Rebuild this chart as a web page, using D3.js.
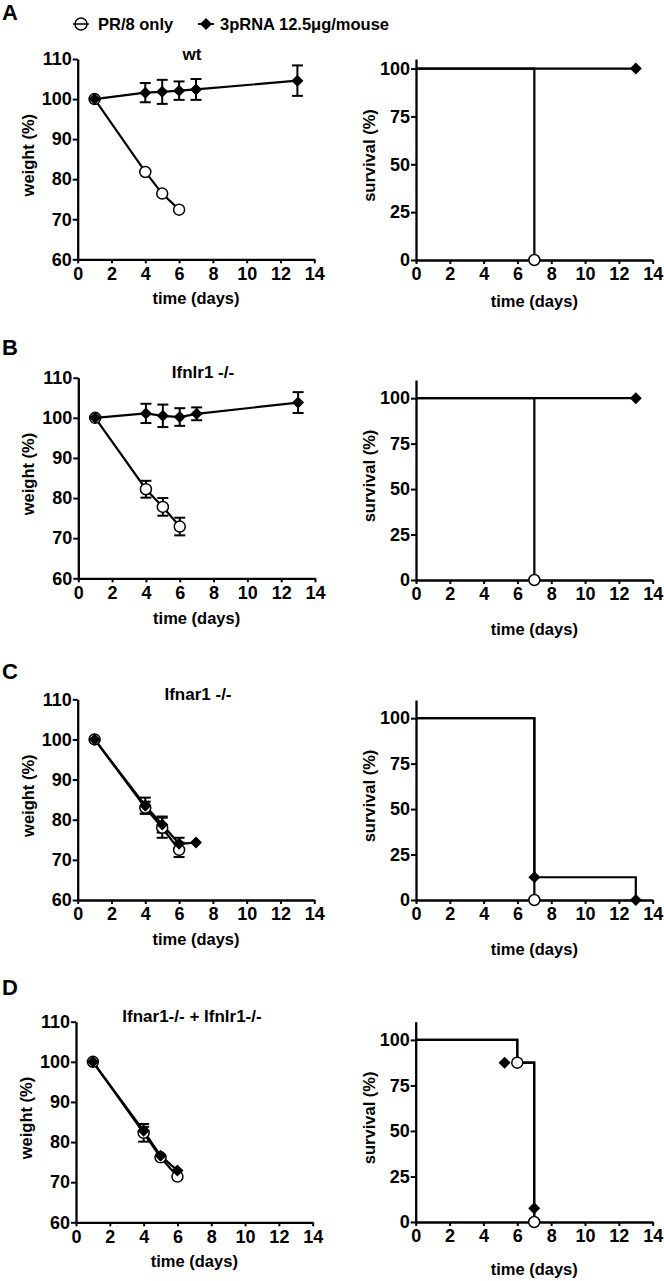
<!DOCTYPE html>
<html>
<head>
<meta charset="utf-8">
<script src="https://cdn.jsdelivr.net/npm/d3@7"></script>
<style>
  body { margin: 0; background: white; }
  svg text { font-family: "Liberation Sans", Arial, sans-serif; font-weight: bold; fill: black; }
</style>
</head>
<body>
<script>
// ---- data ----
var seriesNames = ['PR/8 only', '3pRNA 12.5\u03bcg/mouse'];
var panelLetters = ['A', 'B', 'C', 'D'];
var genotypes = ['wt', 'Ifnlr1 -/-', 'Ifnar1 -/-', 'Ifnar1-/- + Ifnlr1-/-'];

var xTicks = [0, 2, 4, 6, 8, 10, 12, 14];
var weightTicks = [60, 70, 80, 90, 100, 110];
var survivalTicks = [0, 25, 50, 75, 100];

// weight (%) mean and error, days
var pr8Days = [1, 4, 5, 6];
var rnaDaysLong = [1, 4, 5, 6, 7, 13];
var rnaDaysIfnar = [1, 4, 5, 6, 7];
var rnaDaysDko = [1, 4, 5, 6];

var wtPR8 = [100, 81.8, 76.4, 72.4];
var wtPR8Err = [0.3, 0.8, 0.8, 0.8];
var wtRNA = [100, 101.6, 101.8, 102.1, 102.4, 104.6];
var wtRNAErr = [0.3, 2.4, 3.0, 2.3, 2.6, 3.8];

var ifnlrPR8 = [100, 82.2, 77.8, 72.9];
var ifnlrPR8Err = [0.3, 2.1, 2.2, 2.2];
var ifnlrRNA = [100, 101.1, 100.5, 100.2, 101.0, 103.8];
var ifnlrRNAErr = [0.3, 2.4, 2.8, 2.2, 1.6, 2.6];

var ifnarPR8 = [100, 83.0, 78.0, 72.5];
var ifnarPR8Err = [0.3, 1.5, 2.5, 1.8];
var ifnarRNA = [100, 83.5, 78.8, 74.0, 74.3];
var ifnarRNAErr = [0.3, 2.0, 2.0, 1.5, 0];

var dkoPR8 = [100, 82.3, 76.2, 71.4];
var dkoPR8Err = [0.3, 2.2, 0.5, 0.5];
var dkoRNA = [100, 82.8, 76.6, 72.9];
var dkoRNAErr = [0.3, 1.0, 0.5, 0.5];

// survival (%) steps and symbols
var survWtPR8Days = [0, 7],        survWtPR8 = [100, 0];
var survWtRNADays = [0, 13],       survWtRNA = [100, 100];
var survIfnlrPR8Days = [0, 7],     survIfnlrPR8 = [100, 0];
var survIfnlrRNADays = [0, 13],    survIfnlrRNA = [100, 100];
var survIfnarPR8Days = [0, 7],     survIfnarPR8 = [100, 0];
var survIfnarRNADays = [0, 7, 13], survIfnarRNA = [100, 12.5, 0];
var survDkoPR8Days = [0, 6, 7],    survDkoPR8 = [100, 87.5, 0];
var survDkoRNADays = [0, 6, 7],    survDkoRNA = [100, 87.5, 0];

// symbol positions (Prism nudges overlapping symbols in D)
var markWtPR8Days = [7],         markWtPR8 = [0];
var markWtRNADays = [13],        markWtRNA = [100];
var markIfnlrPR8Days = [7],      markIfnlrPR8 = [0];
var markIfnlrRNADays = [13],     markIfnlrRNA = [100];
var markIfnarPR8Days = [7],      markIfnarPR8 = [0];
var markIfnarRNADays = [7, 13],  markIfnarRNA = [12.5, 0];
var markDkoPR8Days = [6, 7],     markDkoPR8 = [87.5, 0];
var markDkoRNADays = [5.25, 7],  markDkoRNA = [87.5, 7.5];

// ---- layout ----
var W = 664, H = 1281;
var weightFrames = [
  {x0: 77.7, x1: 314.3, top: 59,    bot: 259.3,  xlab: 45, titleX: 192, letterY: 20},
  {x0: 78.3, x1: 315,   top: 377.7, bot: 578.3,  xlab: 46, titleX: 203, letterY: 355},
  {x0: 77.7, x1: 314.3, top: 699.3, bot: 900,    xlab: 45, titleX: 198, letterY: 678.5},
  {x0: 76,   x1: 312.7, top: 1021.7, bot: 1222.3, xlab: 45, titleX: 192, letterY: 995}
];
var survFrames = [
  {x0: 416,   x1: 652.7, top: 59,     bot: 260,  max: 105, xlab: 47},
  {x0: 416,   x1: 652.7, top: 380,    bot: 580,  max: 110, xlab: 55},
  {x0: 416,   x1: 652.7, top: 700,    bot: 900,  max: 110, xlab: 55},
  {x0: 415.7, x1: 652.7, top: 1021.7, bot: 1222, max: 110, xlab: 53}
];

var svg = d3.select('body').append('svg')
  .attr('width', W)
  .attr('height', H)
  .style('background', 'white');

function zip(xs, ys, es) {
  return xs.map(function(x, i) {
    return {x: x, y: ys[i], e: es ? es[i] : 0};
  });
}

var diamond = 'M0,-6L6,0L0,6L-6,0Z';

function styleAxis(g) {
  g.select('.domain').attr('stroke', 'black').attr('stroke-width', 2.3);
  g.selectAll('.tick line').attr('stroke', 'black').attr('stroke-width', 2);
  g.selectAll('.tick text').style('font-size', '18px').attr('fill', 'black');
}

function drawAxes(g, x, y, f, yTicks, ylabel) {
  g.append('g')
    .attr('transform', 'translate(0,' + f.bot + ')')
    .call(d3.axisBottom(x).tickValues(xTicks).tickSize(4).tickPadding(3.5).tickSizeOuter(0))
    .call(styleAxis);
  g.append('g')
    .attr('transform', 'translate(' + f.x0 + ',0)')
    .call(d3.axisLeft(y).tickValues(yTicks).tickSize(5).tickPadding(1).tickSizeOuter(0))
    .call(styleAxis);

  g.append('text')
    .attr('x', (f.x0 + f.x1) / 2)
    .attr('y', f.bot + f.xlab)
    .attr('text-anchor', 'middle')
    .style('font-size', '16.5px')
    .text('time (days)');
  g.append('text')
    .attr('transform', 'translate(' + (f.x0 - f.ylab) + ',' + ((f.top + f.bot) / 2 - 4) + ') rotate(-90)')
    .attr('text-anchor', 'middle')
    .style('font-size', '16.5px')
    .text(ylabel);
}

function drawWeight(i, pr8, rna) {
  var f = weightFrames[i];
  f.ylab = 44;
  var g = svg.append('g');
  var x = d3.scaleLinear().domain([0, 14]).range([f.x0, f.x1]);
  var y = d3.scaleLinear().domain([60, 110]).range([f.bot, f.top]);

  drawAxes(g, x, y, f, weightTicks, 'weight (%)');

  g.append('text')
    .attr('x', f.titleX).attr('y', f.top + 0.5)
    .attr('text-anchor', 'middle')
    .style('font-size', '17px')
    .text(genotypes[i]);
  g.append('text')
    .attr('x', 2).attr('y', f.letterY)
    .style('font-size', '22px')
    .style('font-weight', '900')
    .text(panelLetters[i]);

  var line = d3.line().x(function(d) { return x(d.x); }).y(function(d) { return y(d.y); });

  [pr8, rna].forEach(function(s) {
    g.append('path').datum(s)
      .attr('d', line)
      .attr('fill', 'none')
      .attr('stroke', 'black')
      .attr('stroke-width', 2.2);
    var eb = g.selectAll(null).data(s.filter(function(d) { return d.e > 0.9; })).enter().append('g');
    eb.append('line')
      .attr('x1', function(d) { return x(d.x); }).attr('x2', function(d) { return x(d.x); })
      .attr('y1', function(d) { return y(d.y - d.e); }).attr('y2', function(d) { return y(d.y + d.e); });
    eb.append('line')
      .attr('x1', function(d) { return x(d.x) - 5.5; }).attr('x2', function(d) { return x(d.x) + 5.5; })
      .attr('y1', function(d) { return y(d.y + d.e); }).attr('y2', function(d) { return y(d.y + d.e); });
    eb.append('line')
      .attr('x1', function(d) { return x(d.x) - 5.5; }).attr('x2', function(d) { return x(d.x) + 5.5; })
      .attr('y1', function(d) { return y(d.y - d.e); }).attr('y2', function(d) { return y(d.y - d.e); });
    eb.selectAll('line').attr('stroke', 'black').attr('stroke-width', 2);
  });

  g.selectAll(null).data(pr8).enter().append('circle')
    .attr('cx', function(d) { return x(d.x); })
    .attr('cy', function(d) { return y(d.y); })
    .attr('r', 5.5)
    .attr('fill', 'white')
    .attr('stroke', 'black')
    .attr('stroke-width', 1.5);
  g.selectAll(null).data(rna).enter().append('path')
    .attr('d', diamond)
    .attr('transform', function(d) { return 'translate(' + x(d.x) + ',' + y(d.y) + ')'; })
    .attr('fill', 'black');
}

function drawSurvival(i, pr8Line, rnaLine, pr8Marks, rnaMarks) {
  var f = survFrames[i];
  f.ylab = 41;
  var g = svg.append('g');
  var x = d3.scaleLinear().domain([0, 14]).range([f.x0, f.x1]);
  var y = d3.scaleLinear().domain([0, f.max]).range([f.bot, f.top]);

  drawAxes(g, x, y, f, survivalTicks, 'survival (%)');

  var line = d3.line().curve(d3.curveStepAfter)
    .x(function(d) { return x(d.x); }).y(function(d) { return y(d.y); });

  [rnaLine, pr8Line].forEach(function(s) {
    g.append('path').datum(s)
      .attr('d', line)
      .attr('fill', 'none')
      .attr('stroke', 'black')
      .attr('stroke-width', 2.2);
  });

  g.selectAll(null).data(pr8Marks).enter().append('circle')
    .attr('cx', function(d) { return x(d.x); })
    .attr('cy', function(d) { return y(d.y); })
    .attr('r', 5.5)
    .attr('fill', 'white')
    .attr('stroke', 'black')
    .attr('stroke-width', 1.5);
  g.selectAll(null).data(rnaMarks).enter().append('path')
    .attr('d', diamond)
    .attr('transform', function(d) { return 'translate(' + x(d.x) + ',' + y(d.y) + ')'; })
    .attr('fill', 'black');
}

drawWeight(0, zip(pr8Days, wtPR8, wtPR8Err), zip(rnaDaysLong, wtRNA, wtRNAErr));
drawWeight(1, zip(pr8Days, ifnlrPR8, ifnlrPR8Err), zip(rnaDaysLong, ifnlrRNA, ifnlrRNAErr));
drawWeight(2, zip(pr8Days, ifnarPR8, ifnarPR8Err), zip(rnaDaysIfnar, ifnarRNA, ifnarRNAErr));
drawWeight(3, zip(pr8Days, dkoPR8, dkoPR8Err), zip(rnaDaysDko, dkoRNA, dkoRNAErr));

drawSurvival(0, zip(survWtPR8Days, survWtPR8), zip(survWtRNADays, survWtRNA),
  zip(markWtPR8Days, markWtPR8), zip(markWtRNADays, markWtRNA));
drawSurvival(1, zip(survIfnlrPR8Days, survIfnlrPR8), zip(survIfnlrRNADays, survIfnlrRNA),
  zip(markIfnlrPR8Days, markIfnlrPR8), zip(markIfnlrRNADays, markIfnlrRNA));
drawSurvival(2, zip(survIfnarPR8Days, survIfnarPR8), zip(survIfnarRNADays, survIfnarRNA),
  zip(markIfnarPR8Days, markIfnarPR8), zip(markIfnarRNADays, markIfnarRNA));
drawSurvival(3, zip(survDkoPR8Days, survDkoPR8), zip(survDkoRNADays, survDkoRNA),
  zip(markDkoPR8Days, markDkoPR8), zip(markDkoRNADays, markDkoRNA));

// legend
var legend = svg.append('g').attr('transform', 'translate(0,24)');
legend.append('line').attr('x1', 73).attr('x2', 89).attr('stroke', 'black').attr('stroke-width', 1.5);
legend.append('circle').attr('cx', 81).attr('r', 6)
  .attr('fill', 'none').attr('stroke', 'black').attr('stroke-width', 1.5);
legend.append('text').attr('x', 98).attr('y', 5.5).style('font-size', '16.5px').text(seriesNames[0]);
legend.append('line').attr('x1', 198).attr('x2', 214).attr('stroke', 'black').attr('stroke-width', 2);
legend.append('path').attr('d', diamond).attr('transform', 'translate(206,0)').attr('fill', 'black');
legend.append('text').attr('x', 220).attr('y', 5.5).style('font-size', '16.5px').text(seriesNames[1]);
</script>
</body>
</html>
